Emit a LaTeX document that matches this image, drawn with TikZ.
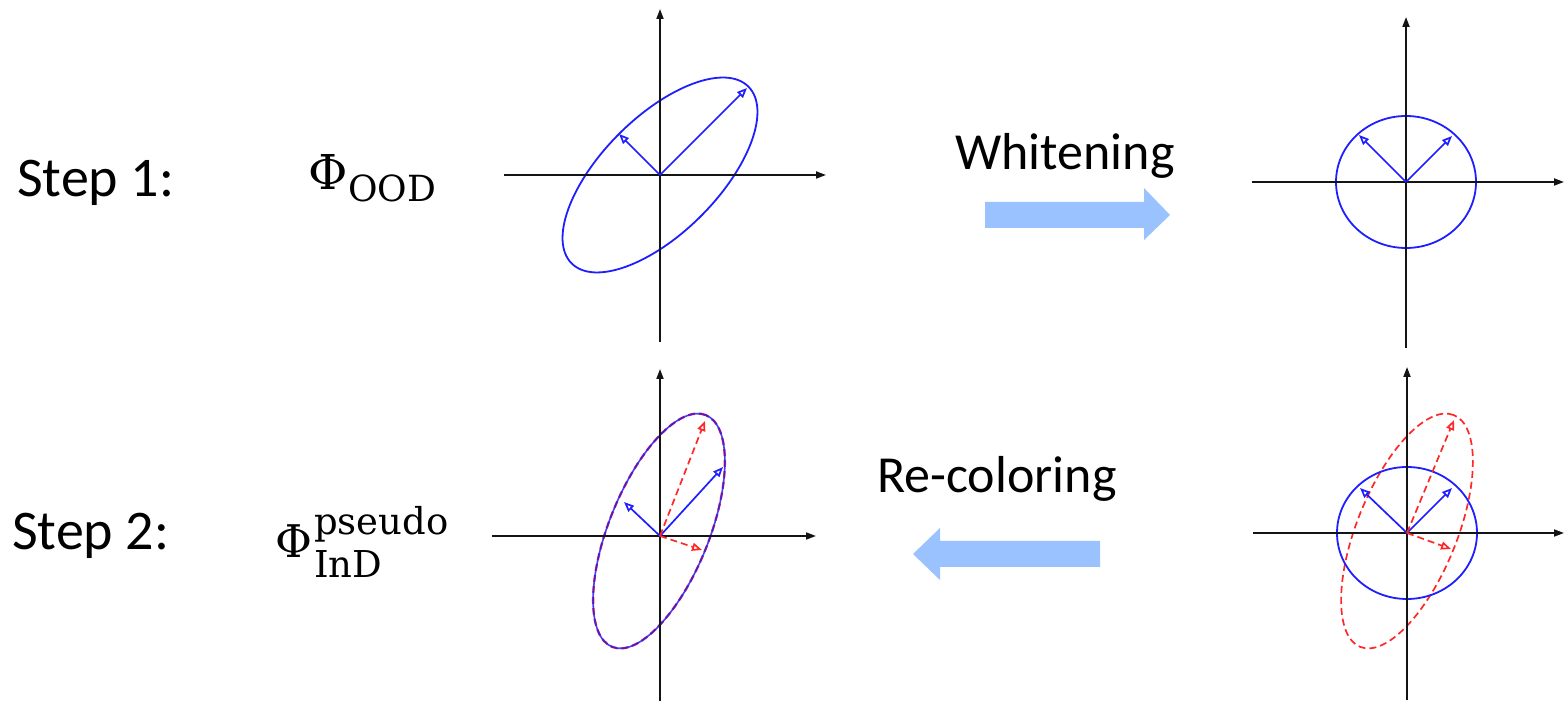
\documentclass[tikz,border=0pt]{standalone}
\usepackage{fontspec}
\setmainfont{Carlito}
\newfontfamily\serfont{DejaVu Serif}
\usetikzlibrary{arrows.meta}
\definecolor{bigarrow}{RGB}{153,194,255}
\definecolor{axcol}{RGB}{20,20,20}
\definecolor{ellblue}{RGB}{30,30,255}
\definecolor{ellred}{RGB}{255,40,40}
\tikzset{
  axis/.style={draw=axcol, line width=1.8pt, -{Triangle[length=10pt,width=7pt]}},
  bvec/.style={draw=ellblue, line width=1.7pt, -{Triangle[open,length=10pt,width=8pt]}},
  rvec/.style={draw=ellred, line width=1.7pt, dash pattern=on 7pt off 4pt, -{Triangle[open,length=10pt,width=8pt]}},
  bell/.style={draw=ellblue, line width=1.8pt},
  bell2/.style={draw=ellblue, line width=1.6pt, draw opacity=0.85},
  rell/.style={draw=ellred, line width=1.7pt, dash pattern=on 7pt off 4pt},
  rellwide/.style={draw=ellred, line width=2.3pt, dash pattern=on 7pt off 4pt},
  steptext/.style={inner sep=0pt, anchor=base west, font=\fontsize{56}{60}\selectfont},
  optext/.style={inner sep=0pt, anchor=base west, font=\fontsize{52}{56}\selectfont},
  phitext/.style={inner sep=0pt, anchor=base west, font=\serfont\fontsize{48}{52}\selectfont},
  scripttext/.style={inner sep=0pt, anchor=base west, font=\serfont\fontsize{36}{40}\selectfont},
  bigarr/.style={fill=bigarrow, draw=none}
}
\begin{document}
\begin{tikzpicture}[x=1pt,y=1pt]
\useasboundingbox (0,0) rectangle (1564,701);
\fill[white] (0,0) rectangle (1564,701);

% ---------- texts ----------
\node[steptext] (step1) at (17,504) {Step 1:};
\node[steptext] (step2) at (12,151) {Step 2:};
\node[phitext] (phi1) at (308,511) {Φ};
\node[scripttext] (sub1) at (348,499) {OOD};
\node[phitext, font=\serfont\fontsize{45}{50}\selectfont] (phi2) at (275,143) {Φ};
\node[scripttext, font=\serfont\fontsize{37}{40}\selectfont] (sup2) at (314,166) {pseudo};
\node[scripttext, font=\serfont\fontsize{37}{40}\selectfont] (sub2) at (314,123) {InD};
\node[optext] (whit) at (955,531) {Whitening};
\node[optext] (recol) at (877,208) {Re-coloring};

% ---------- big arrows ----------
\fill[bigarr] (985,499) -- (1144,499) -- (1144,513) -- (1170,486) -- (1144,461) -- (1144,473) -- (985,473) -- cycle;
\fill[bigarr] (1100,160) -- (940,160) -- (940,173) -- (913,147) -- (940,121) -- (940,134) -- (1100,134) -- cycle;

% ---------- plot A (top left) ----------
\coordinate (oA) at (660,526);
\coordinate (axAl) at (504,526);
\coordinate (axAr) at (826,526);
\coordinate (axAb) at (660,359);
\coordinate (axAt) at (660,692);
\draw[bell, rotate around={45:(oA)}] (oA) ellipse [x radius=125, y radius=58];
\draw[axis] (axAl) -- (axAr);
\draw[axis] (axAb) -- (axAt);
\coordinate (vA1) at (747,613);
\coordinate (vA2) at (619,567);
\draw[bvec] (oA) -- (vA1);
\draw[bvec] (oA) -- (vA2);

% ---------- plot B (top right) ----------
\coordinate (oB) at (1406,519);
\coordinate (axBl) at (1252,519);
\coordinate (axBr) at (1564,519);
\coordinate (axBb) at (1406,353);
\coordinate (axBt) at (1406,684);
\draw[bell] (oB) ellipse [x radius=70, y radius=66];
\draw[axis] (axBl) -- (axBr);
\draw[axis] (axBb) -- (axBt);
\coordinate (vB1) at (1452,565);
\coordinate (vB2) at (1359,566);
\draw[bvec] (oB) -- (vB1);
\draw[bvec] (oB) -- (vB2);

% ---------- plot C (bottom left) ----------
\coordinate (oC) at (660,165);
\coordinate (cC) at (659,170);
\coordinate (axCl) at (492,165);
\coordinate (axCr) at (816,165);
\coordinate (axCb) at (660,0);
\coordinate (axCt) at (660,332);
\draw[rellwide, rotate around={68:(cC)}] (cC) ellipse [x radius=125, y radius=50];
\draw[bell2, rotate around={68:(cC)}] (cC) ellipse [x radius=125, y radius=50];
\draw[axis] (axCl) -- (axCr);
\draw[axis] (axCb) -- (axCt);
\coordinate (vC1) at (723,234);
\coordinate (vC2) at (624,199);
\coordinate (rC1) at (705,280);
\coordinate (rC2) at (702,151);
\draw[bvec] (oC) -- (vC1);
\draw[bvec] (oC) -- (vC2);
\draw[rvec] (oC) -- (rC1);
\draw[rvec] (oC) -- (rC2);

% ---------- plot D (bottom right) ----------
\coordinate (oD) at (1407,168);
\coordinate (cD) at (1407,170);
\coordinate (axDl) at (1253,168);
\coordinate (axDr) at (1564,168);
\coordinate (axDb) at (1407,1);
\coordinate (axDt) at (1407,334);
\draw[rell, rotate around={68:(cD)}] (cD) ellipse [x radius=125, y radius=50];
\draw[bell] (oD) ellipse [x radius=70, y radius=66];
\draw[axis] (axDl) -- (axDr);
\draw[axis] (axDb) -- (axDt);
\coordinate (vD1) at (1452,213);
\coordinate (vD2) at (1360,213);
\coordinate (rD1) at (1454,281);
\coordinate (rD2) at (1451,152);
\draw[bvec] (oD) -- (vD1);
\draw[bvec] (oD) -- (vD2);
\draw[rvec] (oD) -- (rD1);
\draw[rvec] (oD) -- (rD2);
\end{tikzpicture}
\end{document}
